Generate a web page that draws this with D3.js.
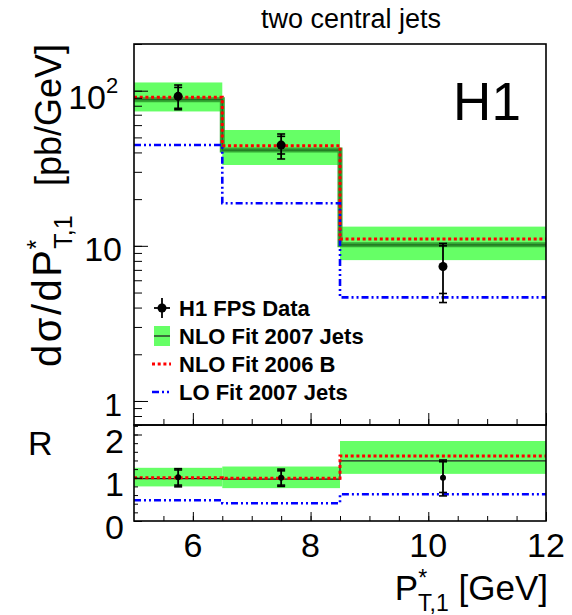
<!DOCTYPE html>
<html>
<head>
<meta charset="utf-8">
<script src="https://cdn.jsdelivr.net/npm/d3@7"></script>
<style>
  body { margin: 0; background: white; }
  text { font-family: "Liberation Sans", Arial, Helvetica, sans-serif; fill: black; }
</style>
</head>
<body>
<div id="chart"></div>
<script>
// bins and data points
const binEdges = [5, 6.5, 8.5, 12];
const binCenters = [5.75, 7.5, 10.25];

const h1Data = [92, 44.6, 7.36];
const h1StatUp = [105, 50.8, 10.0];
const h1StatDown = [77, 39.1, 4.93];
const h1TotUp = [108.8, 52.6, 10.36];
const h1TotDown = [75.4, 36.3, 4.31];

const nlo2007 = [87.5, 41.4, 10.15];
const nlo2007Low = [73.5, 33.2, 8.09];
const nlo2007High = [113, 55.8, 13.3];
const nlo2006B = [90.7, 44.2, 11.05];
const lo2007 = [44.7, 18.8, 4.65];

// ratio panel
const rData = [1.01, 1.0, 1.0];
const rStatUp = [1.18, 1.16, 1.37];
const rStatDown = [0.83, 0.83, 0.66];
const rTotUp = [1.21, 1.2, 1.41];
const rTotDown = [0.79, 0.8, 0.58];
const rNlo2007 = [0.98, 0.97, 1.39];
const rNlo2007Low = [0.8, 0.76, 1.09];
const rNlo2007High = [1.23, 1.26, 1.85];
const rNlo2006B = [1.0, 0.99, 1.505];
const rLo2007 = [0.48, 0.41, 0.62];

const xTicks = [6, 8, 10, 12];
const yTicks = [1, 10, 100];
const rTicks = [0, 1, 2];

const legendLabels = ["H1 FPS Data", "NLO Fit 2007 Jets", "NLO Fit 2006 B", "LO Fit 2007 Jets"];

const W = 572, H = 615;
const plotL = 134, plotR = 546, plotT = 44, plotM = 425, plotB = 521;

const green = "#66ff66";
const redDash = "3,2.7";
const blueDash = "7,3,2,3,2,3";

const svg = d3.select("#chart").append("svg")
  .attr("width", W)
  .attr("height", H)
  .style("background", "white");

const x = d3.scaleLinear().domain([5, 12]).range([plotL, plotR]);
const y = d3.scaleLog().domain([0.7, 200]).range([plotM, plotT]);
const yr = d3.scaleLinear().domain([0, 2.22]).range([plotB, plotM]);

function stepPoints(values, scale) {
  const pts = [];
  values.forEach((v, i) => {
    pts.push([x(binEdges[i]), scale(v)]);
    pts.push([x(binEdges[i + 1]), scale(v)]);
  });
  return pts;
}

const line = d3.line();

function drawPanel(g, scale, d, thickCentral) {
  // green band
  g.selectAll("rect.band")
    .data(d.low)
    .enter()
    .append("rect")
    .attr("class", "band")
    .attr("x", (v, i) => x(binEdges[i]))
    .attr("width", (v, i) => x(binEdges[i + 1]) - x(binEdges[i]))
    .attr("y", (v, i) => scale(d.high[i]))
    .attr("height", (v, i) => scale(v) - scale(d.high[i]))
    .attr("fill", green);

  // NLO 2007 central
  if (thickCentral) {
    g.append("path")
      .attr("d", line(stepPoints(d.central, scale)))
      .attr("fill", "none")
      .attr("stroke", "#34a834")
      .attr("stroke-width", 5);
  }
  g.append("path")
    .attr("d", line(stepPoints(d.central, scale)))
    .attr("fill", "none")
    .attr("stroke", thickCentral ? "#1f6f1f" : "#222")
    .attr("stroke-width", 1.3);

  // LO 2007
  g.append("path")
    .attr("d", line(stepPoints(d.lo, scale)))
    .attr("fill", "none")
    .attr("stroke", "blue")
    .attr("stroke-width", 2.6)
    .attr("stroke-dasharray", blueDash);

  // NLO 2006 B
  g.append("path")
    .attr("d", line(stepPoints(d.b, scale)))
    .attr("fill", "none")
    .attr("stroke", "red")
    .attr("stroke-width", 3)
    .attr("stroke-dasharray", redDash);

  // data points with stat (inner) and total errors
  const pts = g.selectAll("g.pt")
    .data(d.data)
    .enter()
    .append("g")
    .attr("class", "pt");

  pts.append("line")
    .attr("x1", (v, i) => x(binCenters[i]))
    .attr("x2", (v, i) => x(binCenters[i]))
    .attr("y1", (v, i) => scale(d.totUp[i]))
    .attr("y2", (v, i) => scale(d.totDown[i]))
    .attr("stroke", "black")
    .attr("stroke-width", 1.8);

  ["totUp", "totDown", "statUp", "statDown"].forEach(key => {
    pts.append("line")
      .attr("x1", (v, i) => x(binCenters[i]) - 4)
      .attr("x2", (v, i) => x(binCenters[i]) + 4)
      .attr("y1", (v, i) => scale(d[key][i]))
      .attr("y2", (v, i) => scale(d[key][i]))
      .attr("stroke", "black")
      .attr("stroke-width", 1.6);
  });

  pts.append("circle")
    .attr("cx", (v, i) => x(binCenters[i]))
    .attr("cy", v => scale(v))
    .attr("r", d.r)
    .attr("fill", "black");
}

drawPanel(svg.append("g"), y, {
  low: nlo2007Low, high: nlo2007High, central: nlo2007, b: nlo2006B, lo: lo2007,
  data: h1Data, statUp: h1StatUp, statDown: h1StatDown, totUp: h1TotUp, totDown: h1TotDown, r: 4.5
}, true);

drawPanel(svg.append("g"), yr, {
  low: rNlo2007Low, high: rNlo2007High, central: rNlo2007, b: rNlo2006B, lo: rLo2007,
  data: rData, statUp: rStatUp, statDown: rStatDown, totUp: rTotUp, totDown: rTotDown, r: 3
}, false);

// ticks
function noDomain(g) {
  g.select(".domain").remove();
  g.selectAll("line").attr("stroke", "black").attr("stroke-width", 1);
}

// log y, minor + major
svg.append("g")
  .attr("transform", `translate(${plotL},0)`)
  .call(d3.axisRight(y).tickValues(y.ticks().filter(t => t >= 0.7 && t <= 200)).tickSize(8).tickFormat(""))
  .call(noDomain);
svg.append("g")
  .attr("transform", `translate(${plotL},0)`)
  .call(d3.axisRight(y).tickValues(yTicks).tickSize(14).tickFormat(""))
  .call(noDomain);

// ratio y
svg.append("g")
  .attr("transform", `translate(${plotL},0)`)
  .call(d3.axisRight(yr).tickValues(d3.range(0, 2.21, 0.2)).tickSize(4).tickFormat(""))
  .call(noDomain);
svg.append("g")
  .attr("transform", `translate(${plotL},0)`)
  .call(d3.axisRight(yr).tickValues(rTicks).tickSize(8).tickFormat(""))
  .call(noDomain);

// x ticks on both panels
const xMinor = d3.range(5.5, 12, 0.5);
[[plotM, 6, 12], [plotB, 5, 9]].forEach(([yy, sMinor, sMajor]) => {
  svg.append("g")
    .attr("transform", `translate(0,${yy})`)
    .call(d3.axisTop(x).tickValues(xMinor).tickSize(sMinor).tickFormat(""))
    .call(noDomain);
  svg.append("g")
    .attr("transform", `translate(0,${yy})`)
    .call(d3.axisTop(x).tickValues(xTicks).tickSize(sMajor).tickFormat(""))
    .call(noDomain);
});

// frames
svg.append("rect")
  .attr("x", plotL).attr("y", plotT)
  .attr("width", plotR - plotL).attr("height", plotM - plotT)
  .attr("fill", "none").attr("stroke", "black").attr("stroke-width", 1.6);
svg.append("rect")
  .attr("x", plotL).attr("y", plotM)
  .attr("width", plotR - plotL).attr("height", plotB - plotM)
  .attr("fill", "none").attr("stroke", "black").attr("stroke-width", 1.6);

// tick labels
const labelSize = 34;
svg.selectAll("text.xlab")
  .data(xTicks)
  .enter()
  .append("text")
  .attr("class", "xlab")
  .attr("x", d => x(d))
  .attr("y", 557)
  .attr("text-anchor", "middle")
  .style("font-size", labelSize + "px")
  .text(d => d);

svg.selectAll("text.rlab")
  .data(rTicks)
  .enter()
  .append("text")
  .attr("class", "rlab")
  .attr("x", 124)
  .attr("y", d => yr(d) + 18)
  .attr("text-anchor", "end")
  .style("font-size", labelSize + "px")
  .text(d => d);

svg.selectAll("text.ylab")
  .data(yTicks)
  .enter()
  .append("text")
  .attr("class", "ylab")
  .attr("x", d => d === 100 ? 106 : 122)
  .attr("y", d => y(d) + (d === 100 ? 18 : 15))
  .attr("text-anchor", "end")
  .style("font-size", d => (d === 1 ? 32 : labelSize) + "px")
  .text(d => d === 100 ? "10" : d);
svg.append("text")
  .attr("x", 106)
  .attr("y", y(100) + 2)
  .style("font-size", "22px")
  .text("2");

// axis titles
svg.append("text")
  .attr("transform", `translate(61,${plotT}) rotate(-90)`)
  .attr("text-anchor", "end")
  .style("font-size", "36px")
  .text("[pb/GeV]");

const ytitle = svg.append("text")
  .attr("transform", "translate(61,367) rotate(-90)")
  .style("font-size", "40px");
ytitle.append("tspan").style("letter-spacing", "2.5px").text("dσ/dP");
ytitle.append("tspan").attr("dx", -2).attr("dy", -16).style("font-size", "25px").text("*");
ytitle.append("tspan").attr("dx", -9).attr("dy", 27).style("font-size", "25px").text("T,1");

const xtitle = svg.append("text")
  .attr("x", 548)
  .attr("y", 600)
  .attr("text-anchor", "end")
  .style("font-size", "35px");
xtitle.append("tspan").text("P");
xtitle.append("tspan").attr("dy", -14).style("font-size", "23px").text("*");
xtitle.append("tspan").attr("dx", -9).attr("dy", 25).style("font-size", "23px").text("T,1");
xtitle.append("tspan").attr("dy", -11).text(" [GeV]");

svg.append("text")
  .attr("x", 28)
  .attr("y", 455)
  .style("font-size", "34px")
  .text("R");

// title and H1 label
svg.append("text")
  .attr("x", 351)
  .attr("y", 28)
  .attr("text-anchor", "middle")
  .style("font-size", "27px")
  .text("two central jets");

svg.append("text")
  .attr("x", 487)
  .attr("y", 120)
  .attr("text-anchor", "middle")
  .style("font-size", "53px")
  .text("H1");

// legend
const legendY = [308, 336, 364, 392];
const leg = svg.append("g");
leg.selectAll("text")
  .data(legendLabels)
  .enter()
  .append("text")
  .attr("x", 179)
  .attr("y", (d, i) => legendY[i] + 8)
  .style("font-size", "22px")
  .style("font-weight", "bold")
  .text(d => d);

leg.append("line")
  .attr("x1", 162).attr("x2", 162)
  .attr("y1", legendY[0] - 10).attr("y2", legendY[0] + 10)
  .attr("stroke", "black").attr("stroke-width", 1.8);
leg.append("line")
  .attr("x1", 154).attr("x2", 170)
  .attr("y1", legendY[0]).attr("y2", legendY[0])
  .attr("stroke", "black").attr("stroke-width", 1.8);
leg.append("circle")
  .attr("cx", 162).attr("cy", legendY[0]).attr("r", 4.5);

leg.append("rect")
  .attr("x", 154).attr("y", legendY[1] - 10)
  .attr("width", 16).attr("height", 20)
  .attr("fill", green);
leg.append("line")
  .attr("x1", 154).attr("x2", 170)
  .attr("y1", legendY[1]).attr("y2", legendY[1])
  .attr("stroke", "#222").attr("stroke-width", 1.3);

leg.append("line")
  .attr("x1", 152).attr("x2", 171)
  .attr("y1", legendY[2]).attr("y2", legendY[2])
  .attr("stroke", "red").attr("stroke-width", 3)
  .attr("stroke-dasharray", redDash);

leg.append("line")
  .attr("x1", 152).attr("x2", 171)
  .attr("y1", legendY[3]).attr("y2", legendY[3])
  .attr("stroke", "blue").attr("stroke-width", 2.6)
  .attr("stroke-dasharray", blueDash);
</script>
</body>
</html>
